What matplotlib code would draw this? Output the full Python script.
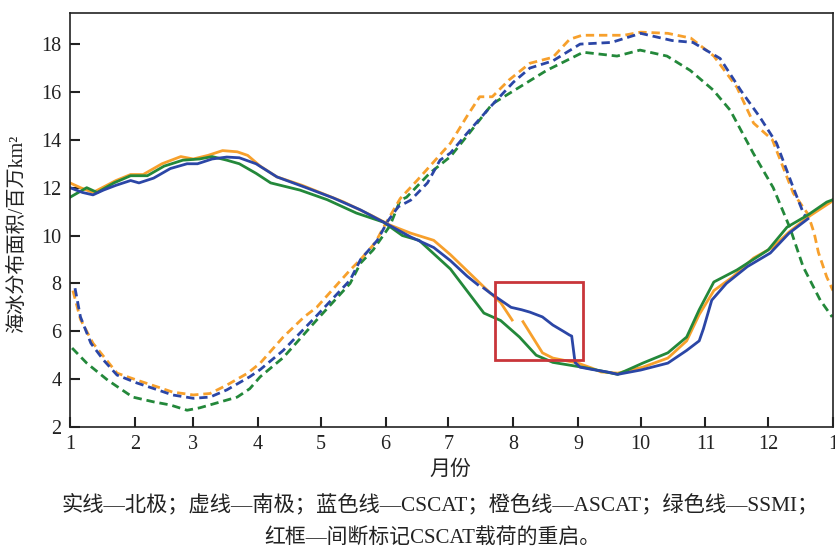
import numpy as np
import matplotlib
matplotlib.use("Agg")
import matplotlib.pyplot as plt
from matplotlib.patches import Rectangle

plt.rcParams['font.family'] = ['Liberation Serif', 'Noto Sans CJK SC']
plt.rcParams['lines.scale_dashes'] = False

# day of year -> sea ice extent (million km2)
# Arctic (solid)
cscat_n_day = [0, 6, 11, 16, 22, 29, 33, 40, 48, 56, 61, 68, 75, 81, 89, 99, 113, 126, 139, 150, 163, 174, 182,
               190, 195, 196.5, 198, 201, 206, 211, 216, 220, 226, 231, 236, 239, 240, 241.6, 244, 250, 257, 262,
               273, 286, 295, 301, 303, 307, 314, 324, 335, 344, 353]
cscat_n = [12.0, 11.8, 11.7, 11.9, 12.1, 12.3, 12.2, 12.4, 12.8, 13.0, 13.0, 13.2, 13.28, 13.25, 13.0, 12.45, 12.0,
           11.57, 11.07, 10.56, 9.94, 9.5, 8.95, 8.3, 7.95, np.nan, 7.8, 7.6, 7.3, 7.0, 6.9, 6.8, 6.6, 6.26, 6.0,
           5.84, 5.8, 4.7, 4.5, 4.4, 4.3, 4.2, 4.38, 4.67, 5.2, 5.6, 6.1, 7.3, 8.0, 8.7, 9.27, 10.1, 10.7]

ascat_n_day = [0, 5, 11, 22, 29, 35, 44, 53, 59, 66, 73, 80, 85, 91, 99, 111, 131, 144, 153, 163, 174, 182, 198,
               206, 211.5, 214, 216.7, 226, 231, 243, 250, 254, 262, 274, 286, 295, 301, 308, 317, 327, 336, 344,
               353, 364, 365]
ascat_n = [12.2, 12.0, 11.8, 12.3, 12.55, 12.55, 13.0, 13.3, 13.2, 13.35, 13.55, 13.5, 13.35, 12.9, 12.45, 12.1,
           11.4, 10.85, 10.44, 10.1, 9.8, 9.2, 7.85, 7.2, 6.47, np.nan, 6.4, 5.1, 4.88, 4.67, 4.45, 4.3, 4.25, 4.5,
           4.88, 5.6, 6.7, 7.7, 8.27, 9.06, 9.5, 10.15, 10.77, 11.4, 11.5]

ssmi_n_day = [0, 8, 13, 21, 29, 37, 45, 54, 62, 68, 75, 81, 89, 96, 110, 123, 137, 150, 159, 167, 182, 198, 206,
              215, 223, 231, 247, 262, 274, 286, 295, 301, 308, 319, 334, 343, 353, 362, 365]
ssmi_n = [11.6, 12.0, 11.8, 12.2, 12.5, 12.5, 12.9, 13.15, 13.2, 13.3, 13.15, 13.0, 12.6, 12.2, 11.9, 11.5, 10.94,
          10.56, 10.0, 9.8, 8.6, 6.76, 6.45, 5.76, 5.0, 4.7, 4.47, 4.2, 4.67, 5.1, 5.76, 6.9, 8.06, 8.56, 9.4,
          10.35, 10.86, 11.4, 11.5]

# Antarctic (dashed)
cscat_s_day = [2.4, 5, 10, 16, 22.5, 32, 42, 49, 59, 67, 75, 86, 91, 102, 118, 134, 139, 147, 152, 157, 163, 171,
               177, 182, 190, 201, 212, 220, 231, 244, 259, 273, 288, 298, 311, 321, 330, 338, 346, 351, 353]
cscat_s = [7.8, 6.6, 5.5, 4.8, 4.17, 3.84, 3.55, 3.34, 3.2, 3.25, 3.55, 4.1, 4.4, 5.2, 6.65, 8.14, 9.0, 9.8, 10.6,
           11.2, 11.48, 12.2, 13.15, 13.45, 14.28, 15.37, 16.4, 17.0, 17.3, 18.0, 18.07, 18.45, 18.15, 18.07,
           17.4, 16.05, 14.95, 13.86, 12.0, 10.9, 10.7]

ascat_s_day = [1.4, 5, 11, 22.5, 32, 42, 49, 59, 67, 75, 85, 91, 102, 112, 118, 134, 139, 146, 151, 158, 166, 182,
               190, 196, 202, 210, 220, 231, 239, 245, 265, 273, 286, 297, 308, 319, 327, 336, 346, 353, 356, 358,
               362, 365]
ascat_s = [7.7, 6.5, 5.5, 4.25, 3.96, 3.67, 3.46, 3.34, 3.4, 3.75, 4.25, 4.67, 5.76, 6.6, 7.0, 8.56, 9.0, 9.7,
           10.5, 11.55, 12.3, 13.86, 15.0, 15.8, 15.8, 16.5, 17.2, 17.45, 18.2, 18.37, 18.37, 18.5, 18.45, 18.25,
           17.5, 16.2, 14.7, 14.0, 11.77, 10.9, 10.1, 9.3, 8.27, 7.7]

ssmi_s_day = [1, 8, 18, 30, 40, 48, 56, 62, 70, 80, 86, 91, 102, 118, 134, 139, 145, 153, 158, 161, 172, 182, 191,
              202, 215, 228, 245.5, 261.7, 272.7, 285.6, 296.7, 307.7, 315.8, 326.8, 336.4, 344.5, 350.7, 358.9,
              364.6]
ssmi_s = [5.3, 4.67, 3.96, 3.25, 3.05, 2.92, 2.7, 2.8, 3.0, 3.25, 3.6, 4.1, 4.9, 6.47, 8.0, 8.85, 9.4, 10.4, 11.48,
          11.6, 12.6, 13.3, 14.28, 15.5, 16.2, 16.9, 17.66, 17.5, 17.75, 17.5, 16.9, 16.08, 15.24, 13.45, 12.0,
          10.3, 8.7, 7.3, 6.6]

month_starts = [0, 31, 59, 90, 120, 151, 181, 212, 243, 273, 304, 334, 365]
month_labels = ['1', '2', '3', '4', '5', '6', '7', '8', '9', '10', '11', '12', '1']

# CSCAT restart box (day range, value range)
box_days = (203.3, 245.3)
box_vals = (4.8, 8.07)

BLUE = '#2b46a6'
ORANGE = '#f7a02c'
GREEN = '#23883a'
LW = 2.0

fig = plt.figure(figsize=(8.35, 5.48), dpi=100)
ax = fig.add_axes([70 / 835, 1 - 427 / 548, 763 / 835, 414 / 548])

ax.plot(ssmi_s_day, ssmi_s, color=GREEN, lw=LW, dashes=(6, 3.5))
ax.plot(ascat_s_day, ascat_s, color=ORANGE, lw=LW, dashes=(6, 3.5))
ax.plot(cscat_s_day, cscat_s, color=BLUE, lw=LW, dashes=(6, 3.5))

ax.plot(ascat_n_day, ascat_n, color=ORANGE, lw=LW)
ax.plot(ssmi_n_day, ssmi_n, color=GREEN, lw=LW)
ax.plot(cscat_n_day, cscat_n, color=BLUE, lw=LW)

ax.add_patch(Rectangle((box_days[0], box_vals[0]), box_days[1] - box_days[0], box_vals[1] - box_vals[0],
                       fill=False, edgecolor='#c9353a', lw=2.0, zorder=5))

ax.set_xlim(0, 365)
ax.set_ylim(2, 19.3)
ax.set_xticks(month_starts)
ax.set_xticklabels(month_labels)
ax.set_yticks(range(2, 19, 2))
ax.tick_params(direction='in', length=7, width=1.5, labelsize=14.5, pad=6, colors='#222222')
for s in ax.spines.values():
    s.set_linewidth(1.2)
    s.set_color('#222222')

fig.text(18 / 835, 1 - 234 / 548, '海冰分布面积/百万km²', rotation=90, ha='center', va='center',
         fontsize=14.5, color='#222222')
fig.text(450 / 835, 1 - 470 / 548, '月份', ha='center', va='center', fontsize=15, color='#222222')
fig.text(440 / 835, 1 - 505 / 548, '实线—北极；虚线—南极；蓝色线—CSCAT；橙色线—ASCAT；绿色线—SSMI；',
         ha='center', va='center', fontsize=15.3, color='#222222')
fig.text(432 / 835, 1 - 538 / 548, '红框—间断标记CSCAT载荷的重启。', ha='center', va='center',
         fontsize=15, color='#222222')

fig.savefig('out.png', dpi=100)
